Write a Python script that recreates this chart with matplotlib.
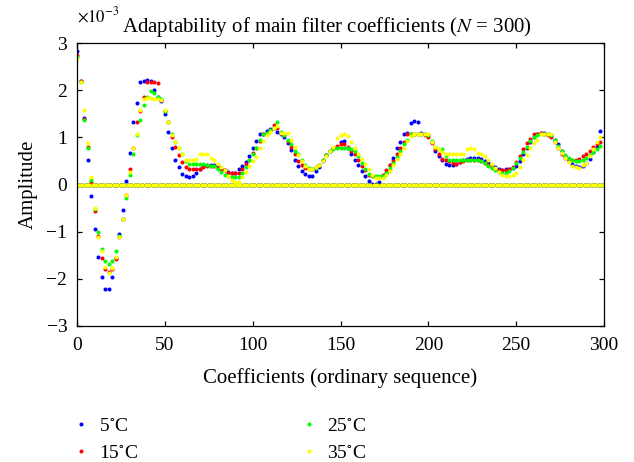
import numpy as np
import matplotlib
matplotlib.use("Agg")
import matplotlib.pyplot as plt

# coefficient values (x1e-3) at even indices 0, 2, ..., 298; odd indices are zero
idx_even = list(range(0, 300, 2))

c5 = [2.82, 2.2, 1.42, 0.53, -0.25, -0.95, -1.53, -1.96, -2.22, -2.22,
      -1.96, -1.55, -1.05, -0.54, 0.08, 0.66, 1.32, 1.72, 2.18, 2.2,
      2.22, 2.2, 2.0, 1.85, 1.78, 1.5, 1.12, 0.77, 0.53, 0.37,
      0.22, 0.17, 0.16, 0.19, 0.25, 0.33, 0.4, 0.42, 0.42, 0.42,
      0.4, 0.33, 0.31, 0.26, 0.25, 0.25, 0.33, 0.4, 0.48, 0.6,
      0.77, 0.92, 1.07, 1.08, 1.14, 1.18, 1.2, 1.11, 1.08, 1.0,
      0.88, 0.73, 0.53, 0.39, 0.29, 0.22, 0.19, 0.19, 0.29, 0.37,
      0.5, 0.63, 0.7, 0.78, 0.8, 0.9, 0.92, 0.78, 0.65, 0.53,
      0.42, 0.28, 0.18, 0.07, 0.02, 0.02, 0.05, 0.15, 0.25, 0.41,
      0.57, 0.78, 0.9, 1.08, 1.1, 1.3, 1.34, 1.32, 1.1, 1.08,
      1.05, 0.9, 0.72, 0.6, 0.51, 0.44, 0.42, 0.41, 0.44, 0.48,
      0.52, 0.55, 0.57, 0.57, 0.57, 0.55, 0.5, 0.47, 0.42, 0.37,
      0.33, 0.31, 0.32, 0.33, 0.35, 0.4, 0.5, 0.65, 0.78, 0.9,
      1.0, 1.08, 1.1, 1.1, 1.08, 1.05, 0.95, 0.85, 0.7, 0.6,
      0.53, 0.44, 0.4, 0.38, 0.4, 0.45, 0.55, 0.68, 0.8, 1.13]

c15 = [2.75, 2.2, 1.38, 0.8, 0.05, -0.57, -1.1, -1.56, -1.8, -1.86,
       -1.8, -1.59, -1.12, -0.73, -0.23, 0.32, 0.78, 1.32, 1.55, 1.85,
       2.18, 2.18, 2.18, 2.15, 1.8, 1.56, 1.32, 1.0, 0.8, 0.62,
       0.48, 0.38, 0.33, 0.33, 0.33, 0.33, 0.38, 0.4, 0.4, 0.39,
       0.35, 0.32, 0.3, 0.25, 0.25, 0.25, 0.25, 0.33, 0.44, 0.53,
       0.66, 0.78, 0.92, 1.07, 1.1, 1.15, 1.27, 1.2, 1.1, 1.05,
       0.92, 0.8, 0.65, 0.5, 0.42, 0.36, 0.32, 0.32, 0.37, 0.42,
       0.53, 0.63, 0.7, 0.78, 0.82, 0.85, 0.85, 0.8, 0.72, 0.65,
       0.52, 0.4, 0.3, 0.2, 0.17, 0.15, 0.15, 0.2, 0.3, 0.42,
       0.5, 0.65, 0.78, 0.9, 1.08, 1.08, 1.08, 1.08, 1.08, 1.06,
       1.0, 0.88, 0.75, 0.65, 0.55, 0.52, 0.5, 0.46, 0.44, 0.48,
       0.5, 0.52, 0.53, 0.53, 0.52, 0.5, 0.46, 0.42, 0.38, 0.33,
       0.3, 0.3, 0.3, 0.32, 0.38, 0.47, 0.6, 0.75, 0.88, 0.97,
       1.08, 1.08, 1.1, 1.08, 1.06, 1.0, 0.9, 0.78, 0.65, 0.57,
       0.52, 0.52, 0.52, 0.55, 0.6, 0.65, 0.72, 0.8, 0.85, 0.9]

c25 = [2.7, 2.18, 1.36, 0.77, 0.1, -0.52, -1.0, -1.36, -1.62, -1.68,
       -1.62, -1.41, -1.1, -0.73, -0.29, 0.21, 0.65, 1.05, 1.37, 1.68,
       1.85, 1.98, 1.94, 1.85, 1.81, 1.56, 1.32, 1.08, 0.9, 0.77,
       0.65, 0.5, 0.44, 0.44, 0.44, 0.44, 0.44, 0.42, 0.39, 0.39,
       0.33, 0.26, 0.2, 0.17, 0.15, 0.15, 0.15, 0.25, 0.37, 0.53,
       0.64, 0.77, 0.95, 1.07, 1.1, 1.15, 1.2, 1.32, 1.12, 1.05,
       0.95, 0.85, 0.72, 0.65, 0.53, 0.42, 0.34, 0.32, 0.36, 0.42,
       0.53, 0.63, 0.7, 0.75, 0.78, 0.78, 0.78, 0.78, 0.75, 0.7,
       0.6, 0.45, 0.33, 0.22, 0.18, 0.18, 0.18, 0.18, 0.25, 0.36,
       0.45, 0.58, 0.72, 0.85, 0.95, 1.08, 1.08, 1.08, 1.08, 1.08,
       1.05, 0.93, 0.8, 0.75, 0.75, 0.6, 0.52, 0.52, 0.52, 0.52,
       0.52, 0.52, 0.52, 0.52, 0.52, 0.5, 0.45, 0.4, 0.36, 0.3,
       0.27, 0.25, 0.25, 0.28, 0.35, 0.45, 0.56, 0.68, 0.8, 0.92,
       1.0, 1.05, 1.08, 1.08, 1.08, 1.05, 0.95, 0.82, 0.7, 0.62,
       0.56, 0.52, 0.5, 0.5, 0.52, 0.57, 0.63, 0.68, 0.75, 0.82]

c35 = [2.67, 2.17, 1.57, 0.89, 0.15, -0.49, -1.12, -1.42, -1.74, -1.87,
       -1.76, -1.54, -1.12, -0.73, -0.23, 0.26, 0.78, 1.08, 1.57, 1.82,
       1.83, 1.83, 1.82, 1.82, 1.8, 1.57, 1.32, 1.05, 0.9, 0.77,
       0.65, 0.53, 0.53, 0.53, 0.55, 0.65, 0.65, 0.65, 0.57, 0.53,
       0.44, 0.37, 0.3, 0.19, 0.1, 0.05, 0.05, 0.16, 0.26, 0.4,
       0.5, 0.58, 0.78, 0.92, 1.05, 1.12, 1.19, 1.25, 1.1, 1.1,
       1.1, 0.95, 0.8, 0.62, 0.5, 0.39, 0.32, 0.32, 0.37, 0.42,
       0.5, 0.6, 0.7, 0.8, 0.99, 1.05, 1.08, 1.02, 0.9, 0.78,
       0.65, 0.55, 0.44, 0.32, 0.2, 0.13, 0.13, 0.13, 0.2, 0.28,
       0.41, 0.55, 0.65, 0.78, 0.92, 1.03, 1.08, 1.08, 1.08, 1.08,
       1.08, 0.9, 0.8, 0.75, 0.68, 0.65, 0.65, 0.65, 0.65, 0.65,
       0.65, 0.75, 0.78, 0.76, 0.67, 0.64, 0.6, 0.53, 0.44, 0.34,
       0.26, 0.21, 0.18, 0.18, 0.21, 0.25, 0.37, 0.51, 0.62, 0.78,
       0.88, 0.94, 1.07, 1.07, 1.07, 1.07, 0.9, 0.78, 0.67, 0.56,
       0.48, 0.4, 0.37, 0.35, 0.42, 0.45, 0.6, 0.75, 0.9, 1.0]

labels = [r'5$^{\circ}$C', r'15$^{\circ}$C', r'25$^{\circ}$C', r'35$^{\circ}$C']
colors = ['#0000ff', '#ff0000', '#00ff00', '#ffff00']
series = [c5, c15, c25, c35]

plt.rcParams['font.family'] = ['Liberation Serif', 'DejaVu Serif']
plt.rcParams['mathtext.fontset'] = 'stix'

fig = plt.figure(figsize=(6.34, 4.62), dpi=100)
ax = fig.add_axes([77/634, 1-326/462, 527/634, 283/462])

n = np.arange(300)
for vals, col, lab in zip(series, colors, labels):
    coef = np.zeros(300)
    coef[idx_even] = np.array(vals) * 1e-3
    ax.plot(n, coef, linestyle='none', marker='o', markersize=2.9,
            markeredgewidth=0, color=col, label=lab)

ax.set_xlim(0, 300)
ax.set_ylim(-3e-3, 3e-3)
ax.set_xticks(range(0, 301, 50))
ax.set_yticks(np.arange(-3, 4) * 1e-3)
ax.set_yticklabels(['\u22123', '\u22122', '\u22121', '0', '1', '2', '3'])
ax.tick_params(direction='in', top=True, right=True, length=3.6, width=0.9,
               labelsize=14)
ax.tick_params(axis='x', pad=8)
ax.tick_params(axis='y', pad=7)
for s in ax.spines.values():
    s.set_linewidth(0.9)

ax.set_xlabel('Coefficients (ordinary sequence)', fontsize=15, labelpad=10)
ax.set_ylabel('Amplitude', fontsize=15, labelpad=6)
fig.text(327/634, 1-27/462, r'Adaptability of main filter coefficients ($N$ = 300)',
         ha='center', va='center', fontsize=15)
fig.text(77/634, 1-16/462, r'$\times10^{-3}$', ha='left', va='center', fontsize=12)

fig.legend(loc='upper left', bbox_to_anchor=(73/634, 1-417/462), ncol=2,
           frameon=False, fontsize=14, handlelength=0.8, handletextpad=0.53,
           columnspacing=8.4, labelspacing=0.5, borderpad=0, borderaxespad=0,
           markerscale=1.0)

fig.savefig('out.png', dpi=100)
